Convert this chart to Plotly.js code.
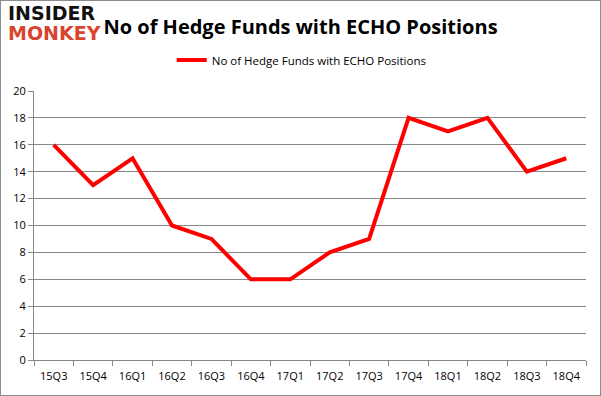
<!DOCTYPE html>
<html><head><meta charset="utf-8">
<script src="https://cdn.plot.ly/plotly-3.0.1.min.js"></script>
<style>html,body{margin:0;padding:0;background:#fff}#c{width:599px;height:394px;border:1px solid #8c8c8c}</style>
</head><body><div id="c"></div>
<script>
const quarters = ["15Q3","15Q4","16Q1","16Q2","16Q3","16Q4","17Q1","17Q2","17Q3","17Q4","18Q1","18Q2","18Q3","18Q4"];
const funds = [16,13,15,10,9,6,6,8,9,18,17,18,14,15];
const seriesName = "No of Hedge Funds with ECHO Positions";
const titleText = "No of Hedge Funds with ECHO Positions";
const yTicks = [0,2,4,6,8,10,12,14,16,18,20];

const trace = {x: quarters, y: funds, type: "scatter", mode: "lines", name: seriesName,
  line: {color: "#ff0000", width: 4}};
const layout = {
  width: 599, height: 394,
  margin: {l: 33, r: 14, t: 90, b: 35},
  paper_bgcolor: "#fff", plot_bgcolor: "#fff",
  title: {text: "<b>" + titleText + "</b>", x: 0.5, xanchor: "center", y: 0.935, yanchor: "middle",
    font: {family: "Open Sans, Liberation Sans, sans-serif", size: 20, color: "#000"}},
  showlegend: true,
  legend: {orientation: "h", x: 0.485, xanchor: "center", y: 1.115, yanchor: "middle",
    itemwidth: 30,
    font: {family: "Open Sans, Liberation Sans, sans-serif", size: 11.5, color: "#000"}},
  xaxis: {type: "category", range: [-0.5, quarters.length - 0.5], tickson: "boundaries", ticks: "outside", ticklen: 5, tickcolor: "#888",
    showline: true, linecolor: "#888", showgrid: false, ticklabelstandoff: 6,
    tickfont: {family: "Open Sans, Liberation Sans, sans-serif", size: 11, color: "#000"}},
  yaxis: {range: [0, 20], tickvals: yTicks, ticks: "outside", ticklen: 5, tickcolor: "#888",
    showline: true, linecolor: "#888", gridcolor: "#888", gridwidth: 1, zeroline: false,
    tickfont: {family: "Open Sans, Liberation Sans, sans-serif", size: 11, color: "#000"}},
  annotations: [
    {text: "<b>INSIDER</b>", xref: "paper", yref: "paper", x: -0.05, xanchor: "left", y: 1.29, yanchor: "middle",
      showarrow: false, font: {family: "DejaVu Sans, sans-serif", size: 19, color: "#111"}},
    {text: "<b>MONKEY</b>", xref: "paper", yref: "paper", x: -0.05, xanchor: "left", y: 1.215, yanchor: "middle",
      showarrow: false, font: {family: "DejaVu Sans, sans-serif", size: 19, color: "#d9442e"}}
  ]
};
Plotly.newPlot("c", [trace], layout, {displayModeBar: false});
</script></body></html>
